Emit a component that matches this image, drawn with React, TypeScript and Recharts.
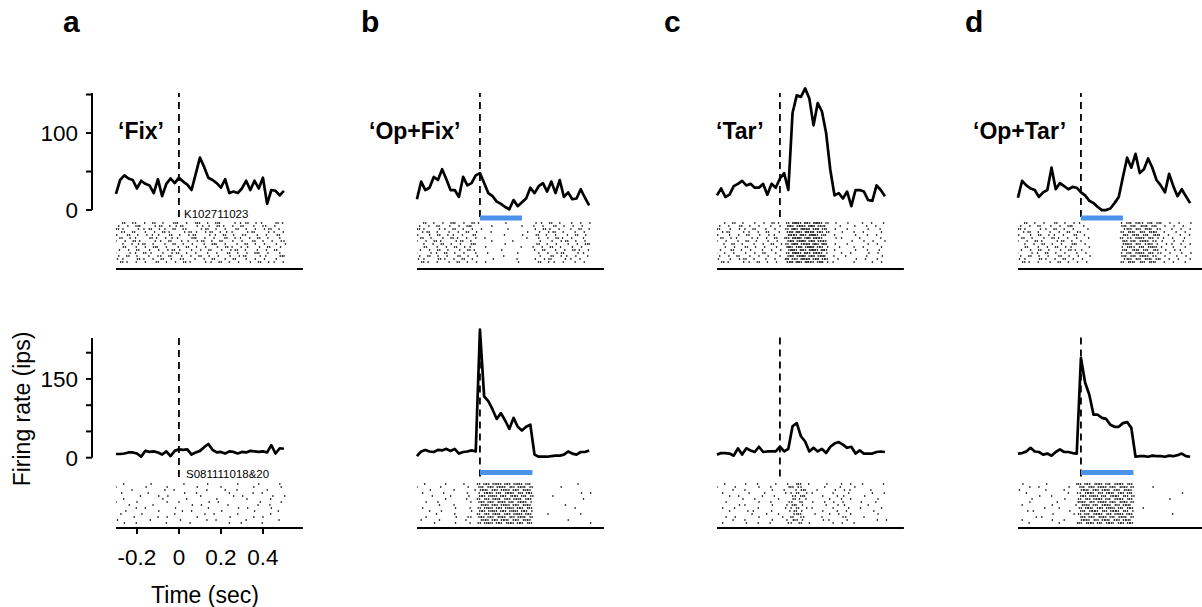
import React from "react";
import {
  Line,
  LineChart,
  ReferenceLine,
  Scatter,
  ScatterChart,
  XAxis,
  YAxis,
} from "recharts";

// ---- data ----
const timeShort = [
  -0.3, -0.28, -0.26, -0.24, -0.22, -0.2, -0.18, -0.16, -0.14, -0.12, -0.1, -0.08, -0.06, -0.04,
  -0.02, 0, 0.02, 0.04, 0.06, 0.08, 0.1, 0.12, 0.14, 0.16, 0.18, 0.2, 0.22, 0.24, 0.26, 0.28, 0.3,
  0.32, 0.34, 0.36, 0.38, 0.4, 0.42, 0.44, 0.46, 0.48, 0.5,
];
const timeLong = [...timeShort, 0.52];

const panelLetters = ["a", "b", "c", "d"];
const conditions = ["\u2018Fix\u2019", "\u2018Op+Fix\u2019", "\u2018Tar\u2019", "\u2018Op+Tar\u2019"];
const cellIds = ["K102711023", "S081111018&20"];

const timeTicks = [-0.2, 0, 0.2, 0.4];
const timeTickLabels = ["-0.2", "0", "0.2", "0.4"];
const rateTicksTop = [0, 50, 100, 150];
const rateLabelsTop = [0, 100];
const rateTicksBottom = [0, 50, 100, 150, 200];
const rateLabelsBottom = [0, 150];

// stimulation (optogenetic) durations, sec
const stimTop = [0, 0.2, 0, 0.2];
const stimBottom = [0, 0.25, 0, 0.25];

// firing rates (ips), top cell
const fixTop = [21, 39, 45, 41, 39, 28, 38, 34, 32, 22, 40, 18, 34, 41, 35, 42, 37, 33, 26, 47, 68, 56, 42, 39, 35, 29, 40, 22, 24, 22, 28, 38, 26, 38, 28, 42, 8, 26, 25, 19, 25];
const opFixTop = [14, 37, 26, 29, 43, 39, 53, 40, 26, 26, 17, 43, 32, 35, 45, 48, 35, 22, 18, 11, 8, 4, 1, 13, 5, 10, 15, 29, 22, 31, 35, 24, 37, 22, 39, 17, 23, 14, 15, 27, 16, 6];
const tarTop = [19, 28, 17, 20, 31, 34, 38, 32, 34, 29, 29, 34, 20, 34, 29, 41, 48, 26, 126, 149, 147, 158, 145, 110, 139, 128, 100, 52, 19, 22, 15, 24, 5, 26, 26, 24, 13, 12, 32, 26, 18];
const opTarTop = [16, 38, 32, 28, 26, 17, 23, 26, 55, 27, 35, 31, 27, 30, 29, 23, 19, 12, 9, 4, 0, 0, 2, 9, 17, 43, 68, 55, 73, 48, 53, 67, 55, 39, 32, 23, 47, 31, 18, 27, 18, 9];

// firing rates (ips), bottom cell
const fixBottom = [7, 7, 8, 10, 10, 8, 2, 13, 11, 12, 10, 6, 12, 3, 13, 16, 15, 16, 6, 10, 13, 20, 26, 15, 10, 11, 8, 12, 11, 8, 11, 10, 13, 12, 11, 12, 10, 24, 8, 18, 17];
const opFixBottom = [2, 11, 14, 11, 10, 14, 13, 16, 12, 16, 7, 10, 11, 13, 11, 243, 116, 107, 91, 73, 84, 70, 54, 75, 58, 51, 58, 62, 5, 1, 1, 1, 2, 3, 3, 5, 11, 7, 5, 10, 10, 13];
const tarBottom = [5, 8, 8, 7, 3, 17, 5, 17, 13, 10, 20, 10, 11, 11, 11, 20, 11, 16, 59, 65, 40, 30, 11, 18, 11, 16, 8, 20, 26, 29, 24, 18, 20, 7, 13, 7, 7, 7, 10, 11, 10];
const opTarBottom = [7, 8, 11, 18, 11, 10, 5, 7, 3, 10, 15, 10, 10, 8, 7, 189, 142, 119, 81, 81, 75, 73, 62, 58, 58, 65, 67, 56, 1, 2, 2, 1, 3, 2, 2, 1, 3, 2, 4, 7, 2, 1];

// rasters: one string per trial, one char per 20 ms bin = spike count
const rasterFixTop = [
  "1.2.11.1.2.1..21.1.12.1.21..1.12.1.1..2.1",
  ".1.1.21..1.2.11.2..1.11.2.1.1.2..1.11.1..",
  "2.1..1.12.1.1.2.11..1.2.1.1..2.1.1.1.2.1.",
  ".11.2..1.1.2.1..1.21.1.2.11.1..1.2..1.1.1",
  "1..2.1.1.11..2.1.1.2..1.1.2.1.11..1.1..2.",
  ".2.1.1..2.1.11.1..21.1.1..2.1.1.1.2.1..1.",
  "1.1.2.1..1.1.2..11.1.2.1.2..1.1..2.1.1.11",
  "..1.11.2.1..1.2.1.1..1.21.1..1.2.1.1..1.1",
  "1.2..1.1.21.1..1.2.1.1..1.2.1.11..1.2..1.",
  ".1.1.2..1.1.1.21..1.1.2..1.1.2.1..1.1.2..",
  "2..1.1.21..1.1.2.1.1..1.1..2.1.1.21.1..1.",
  ".1.2.1..1.11.2..1.1.2.1.1..1.1.2..1.1..21",
  "1.1..2.1.1.2.1.11..1.1.2..1.2..1.1.1..1..",
  ".2.1.1.1..2.1.1.2.1..1.1.2.1.1..1.2.1.1.1",
];
const rasterOpFixTop = [
  "1.2.1.1.21.1.2.1.....1......1.1.2.1..1.1.1",
  ".1.1.2..1.1.21....1......1..1.1..2.1.1.1..",
  "2.1..1.1.2.1.1.1......1.....1.2.1.1..1.2.1",
  ".1.2.1..1.1.2.1...1.......1..1.1.2.1..1.1.",
  "1..1.2.1.1.1..2......1...1...2.1.1..1.2.1.",
  ".2.1..1.2.1.1.1.1.........1..1.1.2.1.1..1.",
  "1.1.2.1..1.2.1....1....1.....1..1.1.2.1.1.",
  "..1.1.2.1.1..21......1.......2.1.1..1.1.21",
  "1.2..1.1.2.1.1..1........1..1.1.2.1..1.1..",
  ".1.1.2.1..1.2.1.....1.......1.2..1.1.2.1.1",
  "2..1.1.2.1.1..1..1......1....1.1.1.2..1.1.",
  ".1.2.1.1..2.1.1......1.......1..2.1.1.1..1",
  "1.1..2.1.1.2.1....1.....1...1.1.2..1.1.1..",
  ".2.1.1..1.2.1.1.1.......1....2.1.1.1..1.1.",
];
const rasterTarTop = [
  "1.1.2.1..1.1.2.1.2332323322.1..1...1.1..1",
  ".1.1..2.1.1..1.1.3223233221..1...1..1.1..",
  "2..1.1.1.2..1.1..2323232321.1..1....1..1.",
  ".1.2..1.1.1.2..1.2332323222...1..1.1...1.",
  "1..1.1.2..1.1.1..3223233221.1....1..1.1..",
  ".2.1.1..1.1.1.2.1232323322..1.1...1....1.",
  "1.1..1.2.1..1.1..2323323222.....1..1.1..1",
  "..1.2.1..1.1.2.1.2332233231.1..1....1.1..",
  "1.1.1..2.1.1..1..3223233221..1...1.1...1.",
  ".1..2.1.1..1.1.1.2323233232.1....1..1..1.",
  "2.1.1..1.1.2..1..2332323221...1.1...1.1..",
  ".1.1.2..1.1.1..1.2323323231.1..1....1..1.",
  "1..1.1.2.1..1.1..3223232322..1...1.1..1..",
  ".2.1..1.1.2.1.1..2332322231.1....1...1.1.",
];
const rasterOpTarTop = [
  "1.2.1.1..2.1.1.1.........1212112121.1.1..1",
  ".1.1.2..1.1.21..1........212112121.1.1.1..",
  "2.1..1.1.2.1.1...1.......1121212111..1.1.1",
  ".1.2.1..1.1.2.11.........212112122.1..1.1.",
  "1..1.2.1.1.1..2.1........1212121121.1..1.1",
  ".2.1..1.2.1.1.1..1.......211212121.1.1..1.",
  "1.1.2.1..1.2.1.1.........1221212111..1.1..",
  "..1.1.2.1.1..21.1........212121121.1.1.1.1",
  "1.2..1.1.2.1.1...1.......1211212121..1..1.",
  ".1.1.2.1..1.2.11.........211212112.1.1.1..",
  "2..1.1.2.1.1..1.1........1212121211.1..1.1",
  ".1.2.1.1..2.1.1..1.......212121211.1..1.1.",
  "1.1..2.1.1.2.1.1.........1121212121.1.1..1",
  ".2.1.1..1.2.1.1.1........212112121.1.1..1.",
];
const rasterFixBottom = [
  "..1.....1.......1.....1......1....1....1.",
  "1......1....1......1.....1.......1.....1.",
  "....1.......1.1.......1...1..1......1....",
  ".1......1.......1..1.......1.....1.1.....",
  "......1...1.1.......1.......1.1......1..1",
  "..1........1.....1......1......1.....1...",
  "1....1......1..1......1.1.........1....1.",
  "...1.....1........1.1......1......1..1...",
  ".....1.1......1.......1......1.1.....1...",
  "..1.......1.....1.1......1.......1.....1.",
  ".1....1.......1......1.1.....1.......1...",
  "....1.....1.1......1.......1.....1.1.....",
  "1.......1......1......1.1......1.......1.",
  "..1..1......1.....1........1..1....1.....",
];
const rasterOpFixBottom = [
  "..1....1...1...2222122221221..........1...",
  "1.....1.....1..2122222122212......1.......",
  "...1.....1....12212221222122..............",
  ".1....1.....1..1222212221222...........1.1",
  "....1...1...1..2221222122212....1.........",
  "1......1....1..2122212222122............1.",
  "..1..1.......1.2222122212221..............",
  ".....1...1.....1222221222122.......1......",
  ".1.......1...1.2212222122212..........1...",
  "...1..1......1.2221222212221..............",
  "1....1...1.....2122212221222...1.......1..",
  "..1......1..11.2222122122212..............",
  ".1...1......1..1222222122122........1.....",
  "....1....1...1.2212221222212.............1",
];
const rasterTarBottom = [
  "..1....1..1...1..1.12.1...1...1.1..1....1",
  "1...1.....1..1...1211.....1..1...1.......",
  "....1..1.....1..1..121..1...1.1.1....1...",
  ".1......1..1....1.12.1.1....1..1.....1..1",
  "...1.1.....1..1...1121...1...11....1.....",
  "1.....1..1.....1..2.11.....1..1.1.....1..",
  "..1.......1..1...11.2..1..1.1.1...1...1..",
  ".....1.1.....1...1211.....1..11.....1....",
  ".1..1.....1.....1.12.1.1....1..1..1....1.",
  "...1...1.1...1...1.21....1...1.1.....1...",
  "1.......1...1..1..112..1...1.1..1.....1..",
  "..1.1.....1.....1.2.11...1....11...1.....",
  "....1..1.....1...1121....1.1...1......1.1",
  ".1.....1..1..1...11.2.1.....1.1..1.......",
];
const rasterOpTarBottom = [
  ".1.....1......12221222122212..............",
  "...1.1......1..2122212221222....1.........",
  "1......1...1...2212222122122..............",
  "..1.........1.11222122212221...........1..",
  ".....1..1......2221221222122..............",
  "1..1.......1...2122222122212........1.....",
  "...1.....1....12212212221222..............",
  ".1......1.....11222122212221..............",
  "......1...1....2221222122122..1...........",
  "..1.1.......1..2122212222121..............",
  "1.......1....1.2212221221222.........1....",
  "....1.1........1222122212212..............",
  ".1......1..1...2221222122221..............",
  "...1......1...12122212212222..............",
];

const topRates = [fixTop, opFixTop, tarTop, opTarTop];
const bottomRates = [fixBottom, opFixBottom, tarBottom, opTarBottom];
const topRasters = [rasterFixTop, rasterOpFixTop, rasterTarTop, rasterOpTarTop];
const bottomRasters = [rasterFixBottom, rasterOpFixBottom, rasterTarBottom, rasterOpTarBottom];

// ---- layout ----
const FONT = "'Liberation Sans', Arial, Helvetica, sans-serif";
const ZERO_X = [179.3, 480, 780, 1081];
const PX_PER_SEC = 210;
const LINE_X_MIN = -0.414;
const RASTER_X_MIN = -0.3;
const X_MAX = 0.59;
const ROW_GAP = 3;
const BLUE = "#4a92ea";
const LABEL_SIZE = 22.5;

const ROWS = [
  { y0: 210, pxPerUnit: 0.77, axisMax: 152, fullMax: 165, ticks: rateTicksTop, labels: rateLabelsTop, dashTop: 93, dashBottom: 217, barY: 218, rasterTop: 223, axisY: 269 },
  { y0: 457.7, pxPerUnit: 0.525, axisMax: 228, fullMax: 250, ticks: rateTicksBottom, labels: rateLabelsBottom, dashTop: 333, dashBottom: 477, barY: 473, rasterTop: 484, axisY: 528 },
];

function PsthChart({ row, col, rates, times, stim }: any) {
  const g = ROWS[row];
  const max = col === 0 ? g.axisMax : g.fullMax;
  const plotH = max * g.pxPerUnit;
  const M = 24;
  const yAxisW = col === 0 ? 60 : 0;
  const plotLeft = ZERO_X[col] + LINE_X_MIN * PX_PER_SEC;
  const plotW = (X_MAX - LINE_X_MIN) * PX_PER_SEC;
  const data = times.map((t: number, i: number) => ({ t, v: rates[i] }));
  const toVal = (y: number) => (g.y0 - y) / g.pxPerUnit;

  return (
    <div style={{ position: "absolute", left: plotLeft - yAxisW, top: g.y0 - plotH - M }}>
      <LineChart width={plotW + yAxisW} height={plotH + 2 * M} data={data} margin={{ top: M, right: 0, bottom: M, left: 0 }}>
        <XAxis type="number" dataKey="t" domain={[LINE_X_MIN, X_MAX]} hide />
        <YAxis
          type="number"
          domain={[0, max]}
          hide={col !== 0}
          width={yAxisW}
          ticks={g.ticks}
          interval={0}
          tickFormatter={(v: number) => (g.labels.includes(v) ? String(v) : "")}
          axisLine={{ stroke: "#000", strokeWidth: 2 }}
          tickLine={{ stroke: "#000", strokeWidth: 2 }}
          tickSize={6}
          tickMargin={8}
          tick={{ fontSize: LABEL_SIZE, fill: "#000", fontFamily: FONT }}
        />
        <ReferenceLine
          segment={[{ x: 0, y: toVal(g.dashBottom) }, { x: 0, y: toVal(g.dashTop) }]}
          stroke="#000"
          strokeWidth={1.8}
          strokeDasharray="7 5"
          ifOverflow="visible"
        />
        {stim > 0 && (
          <ReferenceLine
            segment={[{ x: 0, y: toVal(g.barY) }, { x: stim, y: toVal(g.barY) }]}
            stroke={BLUE}
            strokeWidth={5}
            ifOverflow="visible"
          />
        )}
        <Line
          type="linear"
          dataKey="v"
          stroke="#000"
          strokeWidth={2.7}
          strokeLinejoin="round"
          dot={false}
          activeDot={false}
          isAnimationActive={false}
        />
      </LineChart>
    </div>
  );
}

const SpikeMark = (p: any) => (
  <rect x={p.cx - 0.65} y={p.cy - 0.9} width={1.3} height={1.8} fill="#222" />
);

function RasterChart({ row, col, trials, times }: any) {
  const g = ROWS[row];
  const showLabels = row === 1 && col === 0;
  const xAxisH = showLabels ? 50 : 10;
  const plotTop = g.rasterTop - ROW_GAP;
  const plotH = g.axisY - plotTop;
  const rowMax = (g.axisY - g.rasterTop) / ROW_GAP;
  const plotLeft = ZERO_X[col] + RASTER_X_MIN * PX_PER_SEC;
  const plotW = (X_MAX - RASTER_X_MIN) * PX_PER_SEC;

  const pts: { t: number; r: number }[] = [];
  trials.forEach((s: string, r: number) => {
    for (let i = 0; i < s.length && i < times.length; i++) {
      const n = parseInt(s[i], 10) || 0;
      // spread marks inside their bin so columns do not line up
      const shift = (((r * 7 + i * 3) % 5) - 2) * 0.0035;
      for (let k = 0; k < n; k++) {
        pts.push({ t: times[i] - 0.01 + (0.02 * (k + 0.5)) / n + shift, r });
      }
    }
  });

  return (
    <div style={{ position: "absolute", left: plotLeft, top: plotTop }}>
      <ScatterChart width={plotW} height={plotH + xAxisH} margin={{ top: 0, right: 0, bottom: 0, left: 0 }}>
        <XAxis
          type="number"
          dataKey="t"
          domain={[RASTER_X_MIN, X_MAX]}
          allowDataOverflow
          ticks={timeTicks}
          interval={0}
          height={xAxisH}
          tick={showLabels ? { fontSize: LABEL_SIZE, fill: "#000", fontFamily: FONT } : false}
          tickFormatter={(v: number) => timeTickLabels[timeTicks.indexOf(v)] ?? ""}
          axisLine={{ stroke: "#000", strokeWidth: 2 }}
          tickLine={{ stroke: "#000", strokeWidth: 2 }}
          tickSize={6}
          tickMargin={15}
        />
        <YAxis type="number" dataKey="r" domain={[-1, rowMax]} reversed hide />
        <Scatter data={pts} shape={SpikeMark} isAnimationActive={false} />
      </ScatterChart>
    </div>
  );
}

export default function App() {
  return (
    <div style={{ position: "absolute", left: 0, top: 0, width: 1202, height: 607, background: "#fff", fontFamily: FONT, overflow: "hidden" }}>
      {[0, 1, 2, 3].map((c) => (
        <React.Fragment key={c}>
          <PsthChart row={0} col={c} rates={topRates[c]} times={topRates[c].length > 41 ? timeLong : timeShort} stim={stimTop[c]} />
          <RasterChart row={0} col={c} trials={topRasters[c]} times={topRasters[c][0].length > 41 ? timeLong : timeShort} />
          <PsthChart row={1} col={c} rates={bottomRates[c]} times={bottomRates[c].length > 41 ? timeLong : timeShort} stim={stimBottom[c]} />
          <RasterChart row={1} col={c} trials={bottomRasters[c]} times={bottomRasters[c][0].length > 41 ? timeLong : timeShort} />
        </React.Fragment>
      ))}
      <svg width={1202} height={607} style={{ position: "absolute", left: 0, top: 0, pointerEvents: "none" }}>
        {panelLetters.map((l, i) => (
          <text key={l} x={[63, 361, 664, 965][i]} y={32} fontSize={30} fontWeight="bold" fontFamily={FONT}>
            {l}
          </text>
        ))}
        {conditions.map((t, i) => (
          <text key={t} x={[118, 369, 716, 973][i]} y={139} fontSize={23} fontWeight="bold" fontFamily={FONT}>
            {t}
          </text>
        ))}
        <text x={184} y={218} fontSize={11.5} fontFamily={FONT}>{cellIds[0]}</text>
        <text x={186} y={478} fontSize={11.5} fontFamily={FONT}>{cellIds[1]}</text>
        <text transform="translate(30,409) rotate(-90)" textAnchor="middle" fontSize={23} fontFamily={FONT}>
          Firing rate (ips)
        </text>
        <text x={205} y={603} textAnchor="middle" fontSize={23} fontFamily={FONT}>
          Time (sec)
        </text>
      </svg>
    </div>
  );
}
